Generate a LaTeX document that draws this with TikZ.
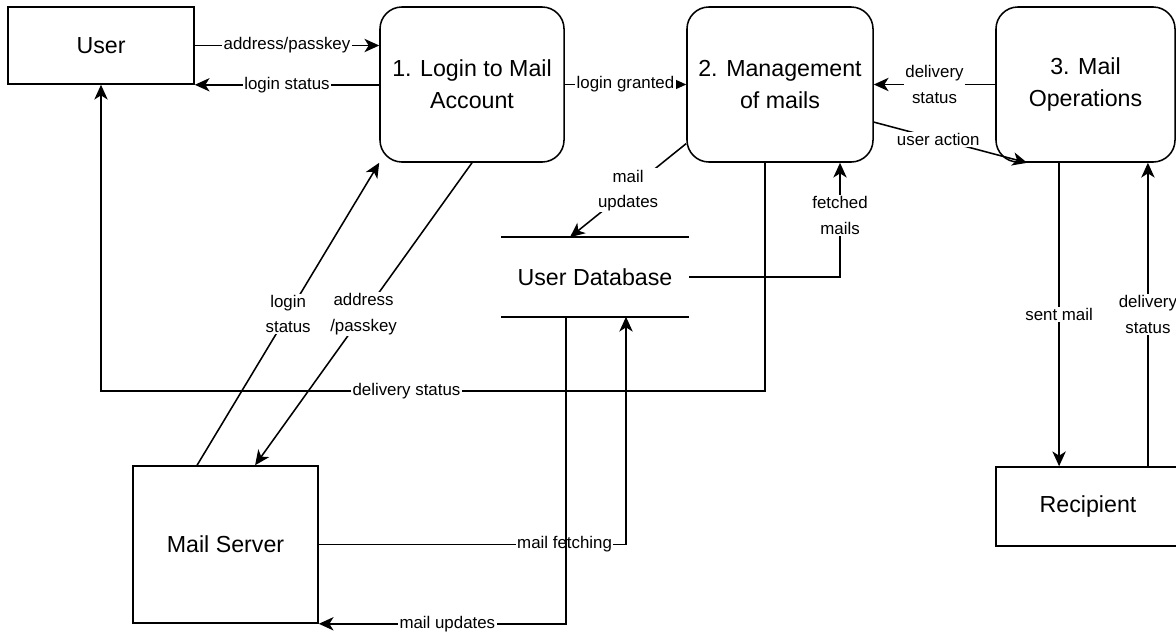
\documentclass[tikz,border=0pt]{standalone}
\usepackage{fontspec}
\setmainfont{Liberation Sans}
\usetikzlibrary{arrows.meta}

\begin{document}
\begin{tikzpicture}[x=0.025cm, y=-0.025cm, line width=1.1pt,
  box/.style={draw, inner sep=0pt, align=center, font=\fontsize{16.5}{23}\selectfont},
  proc/.style={box, rounded corners=0.55cm, minimum height=3.875cm},
  lbl/.style={fill=white, inner sep=1pt, align=center, font=\fontsize{12}{18}\selectfont},
  arr/.style={-{Stealth[length=10.5pt, width=9.5pt, inset=3pt]}}]
\clip (0,0) rectangle (1176,631);
% entities and processes
\node[box, minimum width=4.65cm, minimum height=1.925cm] (user) at (101,45.5) {User};
\node[proc, minimum width=4.6cm] (login) at (472,84.5) {1. Login to Mail\\Account};
\node[proc, minimum width=4.65cm] (mgmt) at (780,84.5) {2. Management\\of mails};
\node[proc, minimum width=4.475cm] (ops) at (1085.5,84.5) {3. Mail\\Operations};
\node[box, minimum width=4.625cm, minimum height=3.925cm] (server) at (225.5,544.5) {Mail Server};
\node[box, minimum width=4.6cm, minimum height=1.975cm] (rec) at (1088,506.5) {Recipient};
\node[box, draw=none, minimum width=4.65cm, minimum height=1.95cm] (db) at (595,277) {User Database};
\draw (db.north west) -- (db.north east) (db.south west) -- (db.south east);
% flows along the top
\draw[arr] (user.east) -- node[lbl] {address/passkey} (user.east -| login.west);
\draw[arr] (login.west |- user.south east) -- node[lbl] {login status} (user.south east);
\draw[arr] (login.east) -- node[lbl] {login granted} (mgmt.west);
\draw[arr] (ops.west) -- node[lbl] {delivery\\status} (mgmt.east);
\draw[arr] ([yshift=-0.94cm]mgmt.east) -- node[lbl, pos=0.42] {user action} ([xshift=0.8cm]ops.south west);
% login and mail server
\draw[arr] ([xshift=-0.71cm]server.north) -- node[lbl] {login\\status} (login.south west);
\draw[arr] (login.south) -- node[lbl] {address\\/passkey} ([xshift=0.74cm]server.north);
% delivery status back to the user
\coordinate (dsR) at (765,391);
\coordinate (dsL) at (user.south |- dsR);
\draw[arr] ([xshift=-0.375cm]mgmt.south) -- (dsR) -- node[lbl, pos=0.54] {delivery status} (dsL) -- (user.south);
% database flows
\draw[arr] ([yshift=0.48cm]mgmt.south west) -- node[lbl] {mail\\updates} ([xshift=-0.625cm]db.north);
\draw[arr] (db.east) -| node[lbl, pos=0.77] {fetched\\mails} ([xshift=1.5cm]mgmt.south);
\draw[arr] (server.east) -| node[lbl, pos=0.4] {mail fetching} ([xshift=0.775cm]db.south);
\draw[arr] ([xshift=-0.725cm]db.south) |- node[lbl, pos=0.74] {mail updates} (server.south east);
% recipient
\draw[arr] ([xshift=-0.66cm]ops.south) -- node[lbl] {sent mail} ([xshift=-0.66cm]ops.south |- rec.north);
\draw[arr] ([xshift=1.56cm]ops.south |- rec.north) -- node[lbl] {delivery\\status} ([xshift=1.56cm]ops.south);
\end{tikzpicture}
\end{document}
